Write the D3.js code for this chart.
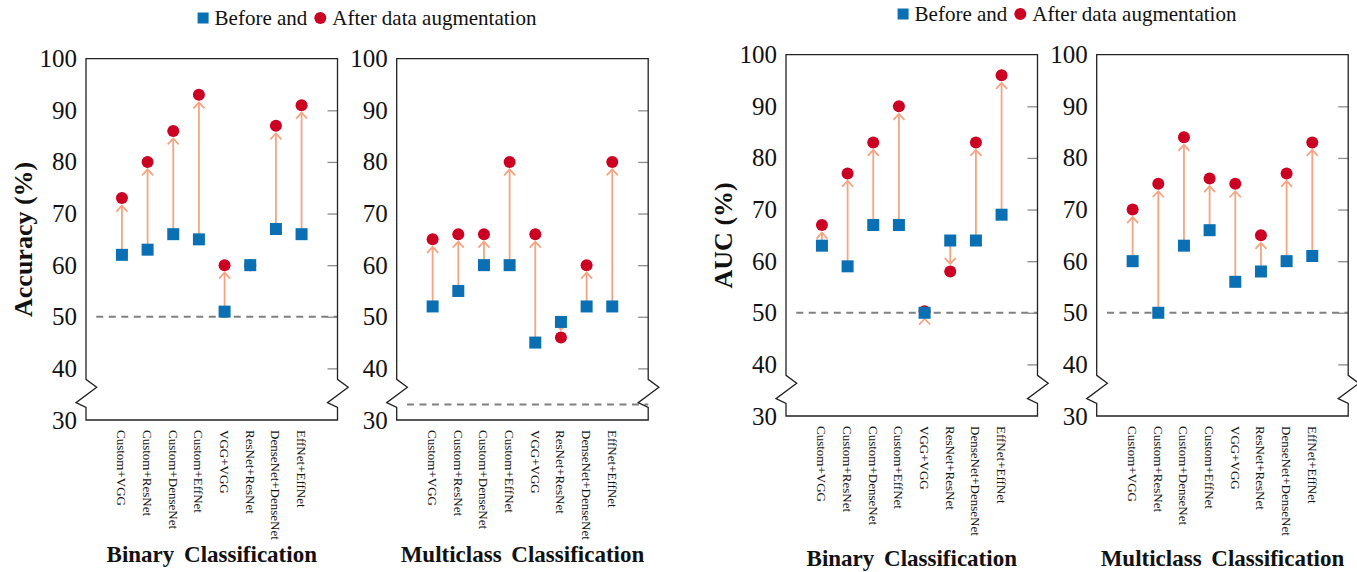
<!DOCTYPE html>
<html>
<head>
<meta charset="utf-8">
<script src="https://cdn.jsdelivr.net/npm/d3@7"></script>
<style>
  body { margin: 0; background: #fff; }
  text { font-family: 'Liberation Serif', 'Times New Roman', serif; fill: #111; }
</style>
</head>
<body>
<script>
// data
const categories = ['Custom+VGG', 'Custom+ResNet', 'Custom+DenseNet', 'Custom+EffNet',
  'VGG+VGG', 'ResNet+ResNet', 'DenseNet+DenseNet', 'EffNet+EffNet'];
const accBinaryBefore = [62, 63, 66, 65, 51, 60, 67, 66];
const accBinaryAfter  = [73, 80, 86, 93, 60, 60, 87, 91];
const accMultiBefore  = [52, 55, 60, 60, 45, 49, 52, 52];
const accMultiAfter   = [65, 66, 66, 80, 66, 46, 60, 80];
const aucBinaryBefore = [63, 59, 67, 67, 50, 64, 64, 69];
const aucBinaryAfter  = [67, 77, 83, 90, 50.3, 58, 83, 96];
const aucMultiBefore  = [60, 50, 63, 66, 56, 58, 60, 61];
const aucMultiAfter   = [70, 75, 84, 76, 75, 65, 77, 83];
const yTicks = [30, 40, 50, 60, 70, 80, 90, 100];
const innerTicks = [40, 50, 60, 70, 80, 90];
const legendLabels = ['Before and', 'After data augmentation'];

const W = 251.5, H = 361.3;
const BLUE = '#0a70b3', RED = '#cc0022', ARROW = '#f5a583';

const svg = d3.select('body').append('svg')
  .attr('width', 1357)
  .attr('height', 572);

function drawPanel(cfg) {
  const g = svg.append('g').attr('transform', `translate(${cfg.left},${cfg.top})`);

  const x = d3.scalePoint().domain(categories).range([0, W]).padding(1.4);
  const y = d3.scaleLinear().domain([30, 100]).range([H, 0]);

  // chance level
  g.append('line')
    .attr('x1', x(categories[0]) - x.step()).attr('x2', W)
    .attr('y1', y(cfg.chance)).attr('y2', y(cfg.chance))
    .attr('stroke', '#808080').attr('stroke-width', 1.8)
    .attr('stroke-dasharray', '7,5.5');

  // inner ticks on the right side
  const rAxis = g.append('g').attr('transform', `translate(${W},0)`)
    .call(d3.axisLeft(y).tickValues(innerTicks).tickSize(10).tickFormat(''));
  rAxis.select('.domain').remove();
  rAxis.selectAll('line').attr('stroke', '#8c8c8c').attr('stroke-width', 1.3);

  // tick labels on the left
  const lAxis = g.append('g')
    .call(d3.axisLeft(y).tickValues(yTicks).tickSize(0).tickPadding(9));
  lAxis.select('.domain').remove();
  lAxis.selectAll('text')
    .style('font-family', "'Liberation Serif', serif")
    .style('font-size', '25px')
    .attr('fill', '#111');

  // frame with axis break
  const zig = [[0, -40.7], [10.7, -32.7], [-10, -17.3], [0, -12.7]];
  const p = d3.path();
  p.moveTo(0, 0);
  zig.forEach(([dx, dy]) => p.lineTo(dx, H + dy));
  p.lineTo(0, H);
  p.lineTo(W, H);
  zig.slice().reverse().forEach(([dx, dy]) => p.lineTo(W + dx, H + dy));
  p.lineTo(W, 0);
  p.closePath();
  g.append('path').attr('d', p.toString())
    .attr('fill', 'none').attr('stroke', '#222').attr('stroke-width', 1.3);

  const rows = categories.map((c, i) => ({ c, b: cfg.before[i], a: cfg.after[i] }));

  // arrows before -> after
  g.selectAll('.arrow')
    .data(rows.filter(d => d.a !== d.b))
    .join('path')
    .attr('class', 'arrow')
    .attr('d', d => {
      const cx = x(d.c), yb = y(d.b), ya = y(d.a);
      const dir = d.a > d.b ? -1 : 1;
      const tip = ya - dir * 7.5;
      return `M${cx},${yb}L${cx},${tip}` +
        `M${cx - 5.5},${tip - dir * 6}L${cx},${tip}L${cx + 5.5},${tip - dir * 6}`;
    })
    .attr('fill', 'none').attr('stroke', ARROW).attr('stroke-width', 1.8);

  g.selectAll('.after')
    .data(rows)
    .join('circle')
    .attr('class', 'after')
    .attr('cx', d => x(d.c)).attr('cy', d => y(d.a)).attr('r', 6)
    .attr('fill', RED);

  g.selectAll('.before')
    .data(rows)
    .join('rect')
    .attr('class', 'before')
    .attr('x', d => x(d.c) - 6).attr('y', d => y(d.b) - 6)
    .attr('width', 12).attr('height', 12)
    .attr('fill', BLUE);

  // category labels
  g.selectAll('.xl')
    .data(categories)
    .join('text')
    .attr('class', 'xl')
    .attr('transform', d => `translate(${x(d)},${H + 10}) rotate(90)`)
    .attr('dy', '0.35em')
    .style('font-size', '13px')
    .text(d => d);

  if (cfg.yTitle) {
    g.append('text')
      .attr('transform', `translate(-63,${H / 2}) rotate(-90)`)
      .attr('text-anchor', 'middle')
      .attr('dy', '0.35em')
      .style('font-size', '26px').style('font-weight', 'bold')
      .text(cfg.yTitle);
  }

  g.append('text')
    .attr('x', W / 2).attr('y', cfg.titleY - cfg.top)
    .attr('text-anchor', 'middle')
    .style('font-size', '23px').style('font-weight', 'bold')
    .style('word-spacing', '4px')
    .text(cfg.title);
}

function drawLegend(cx, cy) {
  const g = svg.append('g');
  const t1 = g.append('text').attr('y', cy + 7).style('font-size', '21px').text(legendLabels[0]);
  const t2 = g.append('text').attr('y', cy + 7).style('font-size', '21px').text(legendLabels[1]);
  const w1 = t1.node().getComputedTextLength();
  const w2 = t2.node().getComputedTextLength();
  const total = 11 + 6 + w1 + 7 + 12 + 6 + w2;
  let x0 = cx - total / 2;
  g.append('rect').attr('x', x0).attr('y', cy - 5.5).attr('width', 11).attr('height', 11).attr('fill', BLUE);
  t1.attr('x', x0 + 17);
  const ccx = x0 + 17 + w1 + 7 + 6;
  g.append('circle').attr('cx', ccx).attr('cy', cy).attr('r', 6).attr('fill', RED);
  t2.attr('x', ccx + 12);
}

drawPanel({ left: 86, top: 58.7, before: accBinaryBefore, after: accBinaryAfter,
  chance: 50, yTitle: 'Accuracy (%)', title: 'Binary Classification', titleY: 562 });
drawPanel({ left: 396.7, top: 58.7, before: accMultiBefore, after: accMultiAfter,
  chance: 33, title: 'Multiclass Classification', titleY: 562 });
drawPanel({ left: 786, top: 54.7, before: aucBinaryBefore, after: aucBinaryAfter,
  chance: 50, yTitle: 'AUC (%)', title: 'Binary Classification', titleY: 566 });
drawPanel({ left: 1096.7, top: 54.7, before: aucMultiBefore, after: aucMultiAfter,
  chance: 50, title: 'Multiclass Classification', titleY: 566 });

drawLegend(367, 18);
drawLegend(1067, 14);
</script>
</body>
</html>
